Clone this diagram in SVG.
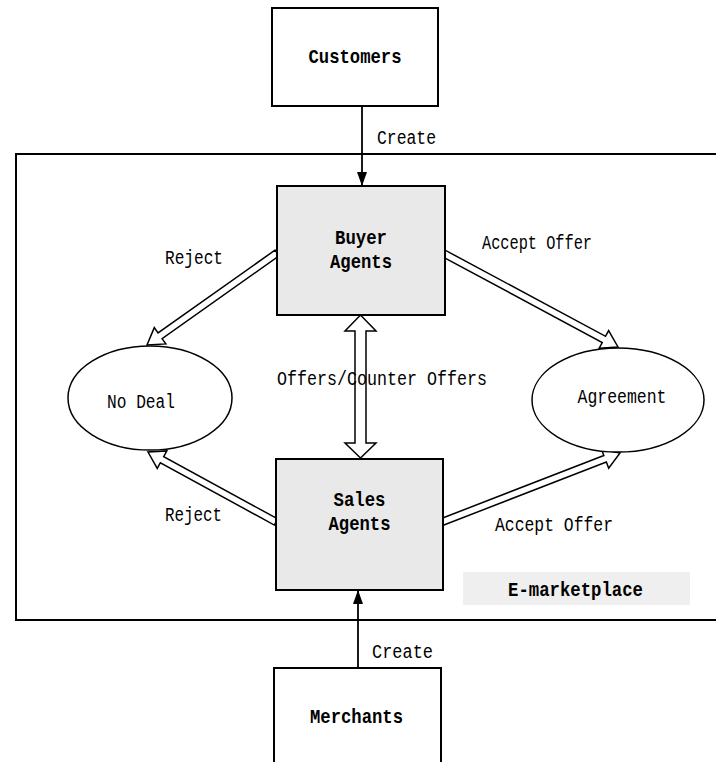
<svg xmlns="http://www.w3.org/2000/svg" width="716" height="762" viewBox="0 0 716 762">
<style>
.t{font-family:"Liberation Mono","DejaVu Sans Mono",monospace;font-size:20.5px;fill:#000;text-anchor:middle;dominant-baseline:central}
.b{font-weight:bold}
.box{fill:#fff;stroke:#000;stroke-width:2}
.agent{fill:#e9e9e9;stroke:#000;stroke-width:2}
.ell{fill:#fff;stroke:#000;stroke-width:1.5}
.blk{fill:#fff;stroke:#000;stroke-width:1.5;stroke-linejoin:miter}
.ln{stroke:#000;stroke-width:1.8;fill:none}
</style>
<defs>
<marker id="ahL" viewBox="0 0 14 10" refX="14" refY="5" markerWidth="14" markerHeight="10" markerUnits="userSpaceOnUse" orient="auto">
<path d="M0,0 L14,5 L0,10 z" fill="#000"/>
</marker>
</defs>
<rect width="716" height="762" fill="#fff"/>
<g id="emarketplace">
<rect x="16" y="154" width="720" height="466" fill="none" stroke="#000" stroke-width="2"/>
<rect x="463" y="572" width="227" height="33" fill="#efefef"/>
<text class="t b" x="575.5" y="590" textLength="135" lengthAdjust="spacingAndGlyphs">E-marketplace</text>
</g>
<g id="connectors">
<line class="ln" x1="362" y1="106" x2="362" y2="186" marker-end="url(#ahL)"/>
<text class="t" x="406.5" y="138" textLength="59" lengthAdjust="spacingAndGlyphs">Create</text>
<line class="ln" x1="358" y1="668" x2="358" y2="590" marker-end="url(#ahL)"/>
<text class="t" x="402.5" y="652" textLength="61" lengthAdjust="spacingAndGlyphs">Create</text>
<polygon class="blk" points="274.98,250.14 158.04,332.90 154.29,327.60 147,345 165.83,343.92 162.08,338.62 279.02,255.86"/>
<text class="t" x="194" y="258" textLength="58" lengthAdjust="spacingAndGlyphs">Reject</text>
<polygon class="blk" points="441.34,256.08 602.24,342.51 599.18,348.24 618,347 608.62,330.62 605.56,336.35 444.66,249.92"/>
<text class="t" x="537" y="243" textLength="110" lengthAdjust="spacingAndGlyphs">Accept Offer</text>
<polygon class="blk" points="277.68,518.93 163.72,456.61 166.84,450.91 148,452 157.24,468.45 160.36,462.75 274.32,525.07"/>
<text class="t" x="193.5" y="515" textLength="57" lengthAdjust="spacingAndGlyphs">Reject</text>
<polygon class="blk" points="443.26,525.26 606.34,462.04 608.69,468.10 620,453 601.47,449.46 603.82,455.52 440.74,518.74"/>
<text class="t" x="554" y="525" textLength="118" lengthAdjust="spacingAndGlyphs">Accept Offer</text>
<polygon class="blk" points="360.5,315 376,331 366,331 366,443 376,443 360.5,458 345,443 355,443 355,331 345,331"/>
<text class="t" x="382" y="379" textLength="210" lengthAdjust="spacingAndGlyphs">Offers/Counter Offers</text>
</g>
<g id="customers">
<rect class="box" x="272" y="8" width="166" height="98"/>
<text class="t b" x="355" y="57" textLength="93" lengthAdjust="spacingAndGlyphs">Customers</text>
</g>
<g id="buyer-agents">
<rect class="agent" x="277" y="186" width="168" height="129"/>
<text class="t b" x="361" y="238" textLength="52" lengthAdjust="spacingAndGlyphs">Buyer</text>
<text class="t b" x="361" y="262" textLength="62" lengthAdjust="spacingAndGlyphs">Agents</text>
</g>
<g id="sales-agents">
<rect class="agent" x="276" y="459" width="167" height="131"/>
<text class="t b" x="359.5" y="500" textLength="52" lengthAdjust="spacingAndGlyphs">Sales</text>
<text class="t b" x="359.5" y="524" textLength="62" lengthAdjust="spacingAndGlyphs">Agents</text>
</g>
<g id="no-deal">
<ellipse class="ell" cx="150" cy="398" rx="82" ry="52"/>
<text class="t" x="141" y="402" textLength="68" lengthAdjust="spacingAndGlyphs">No Deal</text>
</g>
<g id="agreement">
<ellipse class="ell" cx="618" cy="400" rx="86" ry="52"/>
<text class="t" x="622" y="397" textLength="89" lengthAdjust="spacingAndGlyphs">Agreement</text>
</g>
<g id="merchants">
<rect class="box" x="274" y="668" width="167" height="110"/>
<text class="t b" x="356.5" y="717" textLength="93" lengthAdjust="spacingAndGlyphs">Merchants</text>
</g>
</svg>
